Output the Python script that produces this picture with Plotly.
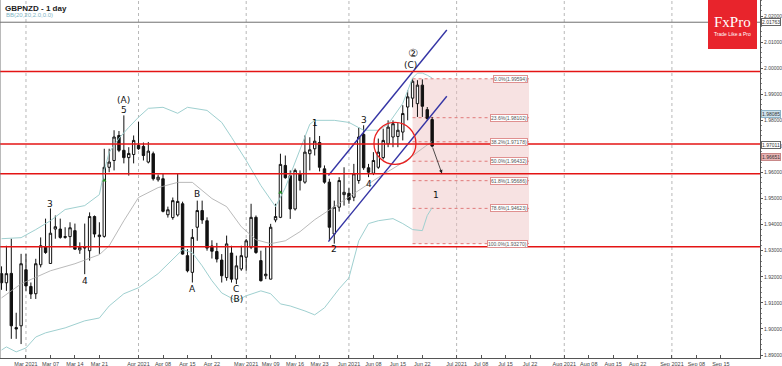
import pandas as pd
import plotly.graph_objects as go

# ---------------- data ----------------
start_date = "2021-02-22"
opens = [1.9212,1.9177,1.9213,1.9005,1.9012,1.9227,1.9163,1.9135,1.9246,1.9315,
         1.9251,1.9383,1.9383,1.9351,1.9354,1.9377,1.9303,1.9315,1.9300,1.9431,
         1.9354,1.9355,1.9620,1.9646,1.9742,1.9685,1.9657,1.9669,1.9704,1.9700,
         1.9640,1.9672,1.9572,1.9576,1.9438,1.9427,1.9437,1.9480,1.9281,1.9217,
         1.9390,1.9454,1.9415,1.9318,1.9297,1.9264,1.9197,1.9291,1.9191,1.9230,
         1.9275,1.9313,1.9428,1.9262,1.9204,1.9191,1.9418,1.9428,1.9627,1.9588,
         1.9460,1.9595,1.9563,1.9672,1.9691,1.9715,1.9614,1.9563,1.9364,1.9467,
         1.9515,1.9520,1.9505,1.9569,1.9746,1.9618,1.9597,1.9620,1.9657,1.9710,
         1.9736,1.9738,1.9755,1.9851,1.9885,1.9864,1.9935,1.9841,1.9803]
highs = [1.9240,1.9319,1.9346,1.9062,1.9288,1.9288,1.9178,1.9269,1.9351,1.9423,
         1.9462,1.9435,1.9423,1.9390,1.9409,1.9404,1.9332,1.9404,1.9447,1.9435,
         1.9409,1.9691,1.9691,1.9762,1.9759,1.9819,1.9697,1.9742,1.9794,1.9715,
         1.9717,1.9680,1.9592,1.9595,1.9469,1.9504,1.9595,1.9488,1.9306,1.9383,
         1.9492,1.9492,1.9428,1.9340,1.9330,1.9287,1.9358,1.9319,1.9281,1.9319,
         1.9345,1.9480,1.9435,1.9300,1.9313,1.9403,1.9480,1.9672,1.9665,1.9608,
         1.9615,1.9608,1.9742,1.9735,1.9794,1.9740,1.9627,1.9576,1.9492,1.9582,
         1.9620,1.9540,1.9633,1.9774,1.9781,1.9633,1.9678,1.9730,1.9768,1.9800,
         1.9800,1.9790,1.9858,1.9915,1.99594,1.9954,1.9957,1.9851,1.9813]
lows = [1.9150,1.9146,1.8962,1.8962,1.8942,1.9146,1.9115,1.9115,1.9236,1.9288,
        1.9250,1.9346,1.9346,1.9346,1.9313,1.9304,1.9288,1.9210,1.9262,1.9351,
        1.9288,1.9350,1.9601,1.9608,1.9678,1.9635,1.9588,1.9635,1.9687,1.9646,
        1.9635,1.9569,1.9565,1.9447,1.9427,1.9419,1.9431,1.9285,1.9217,1.9178,
        1.9338,1.9403,1.9300,1.9270,1.9255,1.9178,1.9185,1.9178,1.9172,1.9223,
        1.9223,1.9306,1.9288,1.9182,1.9191,1.9190,1.9409,1.9425,1.9576,1.9422,
        1.9454,1.9531,1.9557,1.9608,1.9665,1.9604,1.9557,1.9338,1.9327,1.9450,
        1.9473,1.9480,1.9490,1.9557,1.9610,1.9582,1.9590,1.9614,1.9650,1.9697,
        1.9697,1.9697,1.9723,1.9800,1.9850,1.9813,1.9813,1.9800,1.9697]
closes = [1.9177,1.9212,1.9012,1.9000,1.9250,1.9165,1.9134,1.9250,1.9319,1.9293,
          1.9367,1.9392,1.9351,1.9354,1.9388,1.9306,1.9313,1.9311,1.9431,1.9364,
          1.9360,1.9620,1.9640,1.9736,1.9685,1.9657,1.9673,1.9723,1.9691,1.9665,
          1.9682,1.9576,1.9582,1.9451,1.9457,1.9492,1.9489,1.9287,1.9223,1.9351,
          1.9454,1.9418,1.9310,1.9298,1.9268,1.9204,1.9326,1.9191,1.9242,1.9281,
          1.9338,1.9428,1.9293,1.9185,1.9210,1.9390,1.9431,1.9631,1.9580,1.9460,
          1.9608,1.9569,1.9678,1.9687,1.9720,1.9620,1.9563,1.9390,1.9467,1.9569,
          1.9524,1.9495,1.9595,1.9736,1.9618,1.9601,1.9646,1.9678,1.9723,1.9774,
          1.9787,1.9762,1.9826,1.9890,1.9950,1.9935,1.9854,1.9807,1.97011]

bb_up_idx = [0,4,7,10,13,17,20,21,22,24,26,28,30,33,36,38,42,45,47,50,53,56,58,61,62,63,64,68,71,74,77,79,82,84,85,86,87,88]
bb_up_val = [1.9346,1.9350,1.9381,1.9415,1.9458,1.9473,1.9515,1.9608,1.9677,1.9731,1.9773,1.9812,1.9846,1.9850,1.9827,1.9850,
             1.9838,1.9792,1.9735,1.9646,1.9550,1.9469,1.9542,1.9692,1.9742,1.9785,1.9800,1.9800,1.9792,1.9762,1.9762,1.9785,
             1.9865,1.9962,1.9981,1.9981,1.9973,1.9962]
bb_mid_idx = [0,4,10,15,20,22,25,28,32,36,39,43,46,49,52,55,58,61,64,68,71,74,77,80,83,86,88]
bb_mid_val = [1.9119,1.9173,1.9223,1.9250,1.9285,1.9319,1.9415,1.9504,1.9542,1.9562,1.9562,1.9500,1.9469,1.9392,1.9342,
              1.9327,1.9338,1.9373,1.9419,1.9469,1.9508,1.9546,1.9581,1.9615,1.9650,1.9692,1.9719]
bb_low_idx = [0,1,3,5,7,9,13,17,20,22,25,28,32,35,37,39,41,43,45,48,50,53,55,57,59,62,64,66,69,71,72,73,75,77,80,82,84,86,87,88]
bb_low_val = [1.8919,1.8931,1.8912,1.8927,1.8969,1.8985,1.9004,1.9031,1.9042,1.9088,1.9135,1.9158,1.9212,1.9269,1.9304,1.9292,
              1.9242,1.9185,1.9138,1.9108,1.9127,1.9146,1.9135,1.9096,1.9088,1.9069,1.9054,1.9081,1.9154,1.9196,1.9262,1.9338,
              1.9404,1.9415,1.9423,1.9404,1.9381,1.9377,1.9435,1.9465]

# support / resistance lines
red_levels = [1.9987, 1.9709, 1.9595, 1.9315]
gray_level = 2.01763

# Fibonacci retracement: from the low (index 68) to the high (index 84)
fib_levels = [0.0, 0.236, 0.382, 0.5, 0.618, 0.786, 1.0]
fib_hi_idx, fib_lo_idx, fib_end_idx = 84, 68, 107.8

# trend channel (start / end index and price)
chan_idx = [66.8, 91.0]
chan_up = [1.95885, 2.01462]
chan_lo = [1.93346, 1.98923]

# circle (centre index, price)
circle_c = (80.4, 1.97115)

# wave labels (index, price, text)
wave_labels = [(10,1.9481,"3"),(17,1.9185,"4"),(25,1.9877,"(A)"),(25,1.9838,"5"),(40,1.9519,"B"),
               (39,1.9154,"A"),(48,1.9154,"C"),(48,1.9115,"(B)"),(64,1.9788,"1"),(68,1.9308,"2"),
               (74,1.9800,"3"),(75,1.9554,"4"),(83.6,2.0012,"(C)"),(84,2.0058,"②"),(88.8,1.9512,"1")]
green_idx = [21, 57]
green_val = [1.9569, 1.9523]

# right axis price labels
price_ticks = [1.89 + 0.01*k for k in range(14)]
price_tags = [(2.01763, "white", "#666666", 0), (1.98085, "#cfe3ee", "#8fb4c8", 4),
              (1.97011, "white", "#666666", 1), (1.96651, "#e8b4b4", "#c88888", -1)]

# x-axis ticks
tick_dates = ["2021-03-01","2021-03-07","2021-03-14","2021-03-21","2021-04-01","2021-04-08","2021-04-15","2021-04-22",
              "2021-05-01","2021-05-09","2021-05-16","2021-05-23","2021-06-01","2021-06-08","2021-06-15","2021-06-22",
              "2021-07-01","2021-07-08","2021-07-15","2021-07-22","2021-08-01","2021-08-08","2021-08-15","2021-08-22",
              "2021-09-01","2021-09-08","2021-09-15"]
tick_labels = ["Mar 2021","Mar 07","Mar 14","Mar 21","Apr 2021","Apr 08","Apr 15","Apr 22",
               "May 2021","May 09","May 16","May 23","Jun 2021","Jun 08","Jun 15","Jun 22",
               "Jul 2021","Jul 08","Jul 15","Jul 22","Aug 2021","Aug 08","Aug 15","Aug 22",
               "Sep 2021","Sep 08","Sep 15"]
month_starts = ["2021-03-01","2021-04-01","2021-05-01","2021-06-01","2021-07-01","2021-08-01","2021-09-01"]

# ---------------- figure ----------------
cal = pd.bdate_range(start_date, "2021-12-31")
def idx_of(d):
    return int(cal.searchsorted(pd.Timestamp(d)))

xs = list(range(len(opens)))
W, H = 782, 366
ML, MR, MT, MB = 0, 22, 0, 8
PH = H - MT - MB
PW = W - ML - MR
YR = [1.88885, 2.02615]
XR = [-0.31, 155.0]

fig = go.Figure()

# fib rectangle
fib_hi = highs[fib_hi_idx]
fib_lo = lows[fib_lo_idx]
fig.add_shape(type="rect", xref="x", yref="y", x0=fib_hi_idx, x1=fib_end_idx, y0=fib_lo, y1=fib_hi,
              fillcolor="rgba(238,190,190,0.45)", line=dict(width=0), layer="below")
for lv in fib_levels:
    p = fib_hi - lv * (fib_hi - fib_lo)
    fig.add_shape(type="line", xref="x", yref="y", x0=fib_hi_idx, x1=fib_end_idx, y0=p, y1=p,
                  line=dict(color="#e07a7a", width=1, dash="dot"), layer="below")
    fig.add_annotation(x=fib_end_idx, y=p, xref="x", yref="y", xanchor="right", yanchor="middle",
                       text="%.1f%%(%.5f)" % (lv * 100, p), showarrow=False,
                       font=dict(size=5, color="#555555", family="Liberation Sans"),
                       bgcolor="white", bordercolor="#e09090", borderwidth=1, borderpad=0, xshift=-1)

# month grid lines
for d in month_starts:
    fig.add_shape(type="line", xref="x", yref="paper", x0=idx_of(d), x1=idx_of(d), y0=0, y1=1,
                  line=dict(color="#b8b8b8", width=1, dash="dot"), layer="below")

# horizontal lines
fig.add_shape(type="line", xref="paper", yref="y", x0=0, x1=1, y0=gray_level, y1=gray_level,
              line=dict(color="#707070", width=1))
for lv in red_levels:
    fig.add_shape(type="line", xref="paper", yref="y", x0=0, x1=1, y0=lv, y1=lv,
                  line=dict(color="#e41414", width=1.6))

# bollinger bands
fig.add_trace(go.Scatter(x=bb_up_idx, y=bb_up_val, mode="lines", line=dict(color="#9fd0d0", width=1), hoverinfo="skip"))
fig.add_trace(go.Scatter(x=bb_low_idx, y=bb_low_val, mode="lines", line=dict(color="#9fd0d0", width=1), hoverinfo="skip"))
fig.add_trace(go.Scatter(x=bb_mid_idx, y=bb_mid_val, mode="lines", line=dict(color="#a8a8a8", width=0.8), hoverinfo="skip"))

# candles
fig.add_trace(go.Candlestick(x=xs, open=opens, high=highs, low=lows, close=closes,
                             increasing=dict(fillcolor="white", line=dict(color="#111111", width=1)),
                             decreasing=dict(fillcolor="#111111", line=dict(color="#111111", width=1)),
                             whiskerwidth=0, hoverinfo="skip"))

# channel
for ys in (chan_up, chan_lo):
    fig.add_trace(go.Scatter(x=chan_idx, y=ys, mode="lines", line=dict(color="#3535a5", width=1.4), hoverinfo="skip"))

# circle
rx, ry = 21 / (PW / (XR[1] - XR[0])), 21 / (PH / (YR[1] - YR[0]))
fig.add_shape(type="circle", xref="x", yref="y", x0=circle_c[0] - rx, x1=circle_c[0] + rx,
              y0=circle_c[1] - ry, y1=circle_c[1] + ry, line=dict(color="#e82020", width=1.3))

# green markers
fig.add_trace(go.Scatter(x=green_idx, y=green_val, mode="markers",
                         marker=dict(symbol="triangle-up", size=4, color="#2c9a2c"), hoverinfo="skip"))

# wave labels
for xi, p, t in wave_labels:
    fig.add_annotation(x=xi, y=p, xref="x", yref="y", text=t, showarrow=False, xanchor="center", yanchor="middle",
                       font=dict(size=9 if t != "②" else 11, color="#111111", family="DejaVu Sans"))

# projection arrow
fig.add_annotation(x=90, y=1.9596, ax=len(opens) - 1, ay=closes[-1], xref="x", yref="y", axref="x", ayref="y",
                   showarrow=True, arrowhead=2, arrowsize=0.9, arrowwidth=0.8, arrowcolor="#222222", text="")

# price tags on right axis
for p, bg, bc, sh in price_tags:
    fig.add_annotation(x=1, y=p, xref="paper", yref="y", xanchor="left", yanchor="middle", text="%.5f" % p,
                       showarrow=False, font=dict(size=5, color="#333333", family="Liberation Sans"),
                       bgcolor=bg, bordercolor=bc, borderwidth=1, borderpad=0, xshift=1, yshift=sh)

# title
fig.add_annotation(x=0.004, y=1 - 2 / PH, xref="paper", yref="paper", xanchor="left", yanchor="top",
                   text="<b>GBPNZD - 1 day</b>", showarrow=False,
                   font=dict(size=8, color="#222222", family="Liberation Sans"))
fig.add_annotation(x=0.005, y=1 - 10 / PH, xref="paper", yref="paper", xanchor="left", yanchor="top",
                   text="BB(20,20,2.0,0.0)", showarrow=False,
                   font=dict(size=6, color="#7fb6c6", family="Liberation Sans"))

# FxPro logo
fig.add_shape(type="rect", xref="paper", yref="paper", x0=708 / PW, x1=757 / PW, y0=1 - 49 / PH, y1=1,
              fillcolor="#e8242c", line=dict(width=0))
fig.add_annotation(x=732.5 / PW, y=1 - 22 / PH, xref="paper", yref="paper", text="FxPro", showarrow=False,
                   xanchor="center", yanchor="middle",
                   font=dict(size=15, color="white", family="Liberation Serif"))
fig.add_annotation(x=732.5 / PW, y=1 - 34 / PH, xref="paper", yref="paper", text="Trade Like a Pro",
                   showarrow=False, xanchor="center", yanchor="middle",
                   font=dict(size=5, color="white", family="Liberation Sans"))

fig.update_layout(
    width=W, height=H, margin=dict(l=ML, r=MR, t=MT, b=MB, pad=0, autoexpand=False),
    paper_bgcolor="white", plot_bgcolor="white", showlegend=False,
    xaxis=dict(range=XR, rangeslider=dict(visible=False), showgrid=False, zeroline=False, automargin=False,
               tickmode="array", tickvals=[idx_of(d) for d in tick_dates], ticktext=tick_labels, tickangle=0,
               tickfont=dict(size=5.5, color="#444444", family="Liberation Sans"),
               ticks="inside", ticklen=3, tickcolor="#555555",
               showline=True, linecolor="#555555", linewidth=1, mirror=False),
    yaxis=dict(range=YR, side="right", showgrid=False, zeroline=False, automargin=False,
               tickmode="array", tickvals=price_ticks, ticktext=["%.5f" % v for v in price_ticks], tickangle=0,
               tickfont=dict(size=5, color="#444444", family="Liberation Sans"),
               ticks="outside", ticklen=2, tickcolor="#555555",
               minor=dict(ticks="outside", ticklen=1, dtick=0.002, tickcolor="#888888"),
               showline=True, linecolor="#555555", linewidth=1),
)
fig.add_shape(type="line", xref="paper", yref="paper", x0=0, x1=0, y0=0, y1=1, line=dict(color="#777777", width=1))

fig.write_html("out.html", config={"displayModeBar": False},
               post_script="document.body.style.margin='0';document.body.style.overflow='hidden';")
